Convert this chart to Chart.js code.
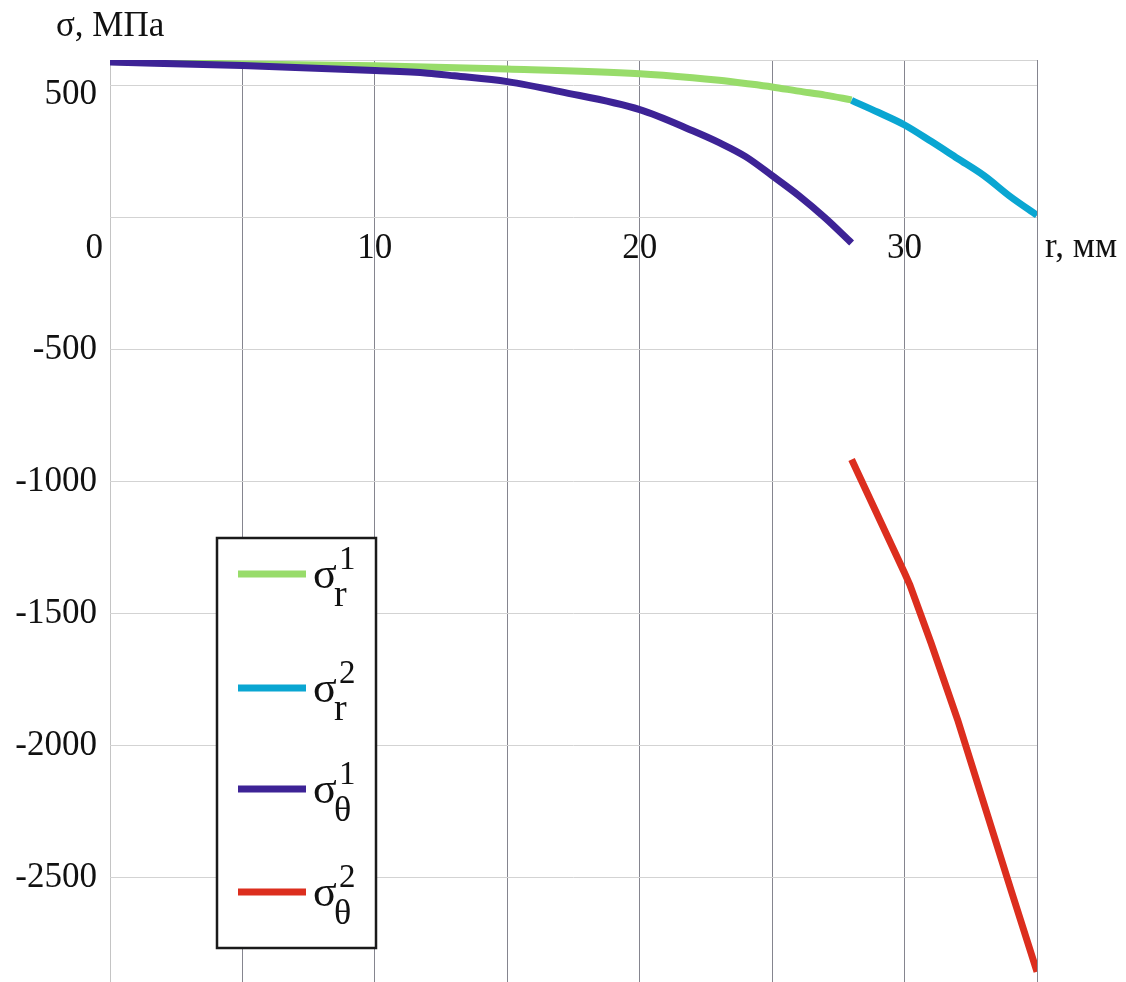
<!DOCTYPE html>
<html>
<head>
<meta charset="utf-8">
<script src="https://cdn.jsdelivr.net/npm/chart.js@4.4.1/dist/chart.umd.min.js"></script>
<style>
  html, body { margin: 0; padding: 0; background: #ffffff; }
  #wrap { width: 1126px; height: 982px; position: relative; }
</style>
</head>
<body>
<div id="wrap"><canvas id="c" width="1126" height="982"></canvas></div>
<script>
// ---- data ----
const sigmaR1_r   = [0, 5, 10, 15, 20, 22, 23, 24, 25, 26, 27, 28];
const sigmaR1_val = [592, 583, 576, 564, 546, 531, 521, 509, 496, 480, 465, 447];

const sigmaR2_r   = [28, 29, 30, 31, 32, 33, 34, 35];
const sigmaR2_val = [445, 400, 352, 290, 225, 160, 80, 10];

const sigmaT1_r   = [0, 5, 10, 12, 13, 15, 17, 20, 22, 23, 24, 25, 26, 27, 28];
const sigmaT1_val = [590, 577, 558, 548, 538, 516, 478, 410, 330, 285, 232, 160, 85, 0, -95];

const sigmaT2_r   = [28, 29, 30, 30.2, 31, 32, 33, 34, 35];
const sigmaT2_val = [-915, -1130, -1345, -1390, -1610, -1900, -2220, -2540, -2855];

const xTicks = [0, 5, 10, 15, 20, 25, 30, 35];
const xLabels = [0, 10, 20, 30];
const yTicks = [500, 0, -500, -1000, -1500, -2000, -2500];
const xMin = 0, xMax = 35, yMin = -2894, yMax = 598;

const seriesColors = ['#98dc6a', '#0aa6d2', '#3d2396', '#dc2e1e'];

function pts(xs, ys) { return xs.map((x, i) => ({ x: x, y: ys[i] })); }

const serif = '"Liberation Serif", "Times New Roman", serif';

const labelsPlugin = {
  id: 'labelsPlugin',
  afterDraw(chart) {
    const ctx = chart.ctx;
    const xs = chart.scales.x, ys = chart.scales.y;
    ctx.save();
    ctx.fillStyle = '#111';
    // y tick labels
    ctx.font = '35px ' + serif;
    ctx.textAlign = 'right';
    ctx.textBaseline = 'middle';
    yTicks.forEach(v => {
      if (v === 0) return;
      let yy = ys.getPixelForValue(v);
      if (v === 500) yy += 9;
      ctx.fillText(String(v), 97, yy);
    });
    // x tick labels (along zero line)
    const base = ys.getPixelForValue(0) + 40;
    ctx.textBaseline = 'alphabetic';
    xLabels.forEach(v => {
      const xx = xs.getPixelForValue(v);
      if (v === 0) { ctx.textAlign = 'right'; ctx.fillText('0', xx - 7, base); }
      else { ctx.textAlign = 'center'; ctx.fillText(String(v), xx, base); }
    });
    // axis titles
    ctx.font = '35px ' + serif;
    ctx.textAlign = 'left';
    ctx.fillText('r, мм', xs.getPixelForValue(xMax) + 8, base - 1);
    ctx.fillText('σ, МПа', 56, 36);

    // legend
    const lx = 217, ly = 538, lw = 159, lh = 410;
    ctx.fillStyle = '#ffffff';
    ctx.fillRect(lx, ly, lw, lh);
    ctx.lineWidth = 2.5;
    ctx.strokeStyle = '#1a1a1a';
    ctx.strokeRect(lx, ly, lw, lh);
    const entries = [
      { c: seriesColors[0], sup: '1', sub: 'r', y: 574 },
      { c: seriesColors[1], sup: '2', sub: 'r', y: 688 },
      { c: seriesColors[2], sup: '1', sub: 'θ', y: 789 },
      { c: seriesColors[3], sup: '2', sub: 'θ', y: 892 }
    ];
    entries.forEach(e => {
      ctx.strokeStyle = e.c;
      ctx.lineWidth = 7;
      ctx.lineCap = 'butt';
      ctx.beginPath();
      ctx.moveTo(238, e.y);
      ctx.lineTo(306, e.y);
      ctx.stroke();
      ctx.fillStyle = '#111';
      ctx.textAlign = 'left';
      ctx.textBaseline = 'alphabetic';
      ctx.font = '44px ' + serif;
      ctx.fillText('σ', 313, e.y + 14);
      ctx.font = '33px ' + serif;
      ctx.fillText(e.sup, 339, e.y - 5);
      ctx.font = (e.sub === 'r' ? '38px ' : '36px ') + serif;
      ctx.fillText(e.sub, 334, e.y + 32);
    });
    ctx.restore();
  }
};

const bgPlugin = {
  id: 'bg',
  beforeDraw(chart) {
    const ctx = chart.ctx;
    ctx.save();
    ctx.fillStyle = '#ffffff';
    ctx.fillRect(0, 0, chart.width, chart.height);
    ctx.restore();
  }
};

function ds(label, xs, ys, color, mono, order) {
  return {
    label: label,
    data: pts(xs, ys),
    borderColor: color,
    backgroundColor: color,
    borderWidth: 7,
    pointRadius: 0,
    fill: false,
    order: order,
    borderCapStyle: 'butt',
    borderJoinStyle: 'round',
    cubicInterpolationMode: mono ? 'monotone' : 'default',
    tension: 0
  };
}

new Chart(document.getElementById('c'), {
  type: 'line',
  data: {
    datasets: [
      ds('σr1', sigmaR1_r, sigmaR1_val, seriesColors[0], true, 2),
      ds('σr2', sigmaR2_r, sigmaR2_val, seriesColors[1], true, 1),
      ds('σθ1', sigmaT1_r, sigmaT1_val, seriesColors[2], true, 0),
      ds('σθ2', sigmaT2_r, sigmaT2_val, seriesColors[3], false, 0)
    ]
  },
  options: {
    responsive: false,
    animation: false,
    devicePixelRatio: 1,
    layout: { padding: { left: 110, top: 60, right: 89, bottom: 0 } },
    plugins: { legend: { display: false }, tooltip: { enabled: false }, title: { display: false } },
    scales: {
      x: {
        type: 'linear', min: xMin, max: xMax,
        afterBuildTicks(scale) { scale.ticks = xTicks.map(v => ({ value: v })); },
        ticks: { display: false },
        border: { display: false },
        grid: {
          drawTicks: false,
          lineWidth: 1,
          color: (c) => (c.tick && c.tick.value === 0) ? '#c4c4c4' : '#85858f'
        }
      },
      y: {
        type: 'linear', min: yMin, max: yMax,
        afterBuildTicks(scale) { scale.ticks = [yMax].concat(yTicks).map(v => ({ value: v })); },
        ticks: { display: false },
        border: { display: false },
        grid: { drawTicks: false, lineWidth: 1, color: '#d3d3d3' }
      }
    }
  },
  plugins: [bgPlugin, labelsPlugin]
});
</script>
</body>
</html>
